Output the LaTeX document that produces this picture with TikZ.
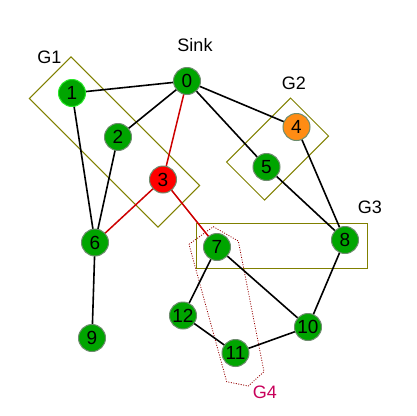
\documentclass[tikz,border=0pt]{standalone}
\usepackage{fontspec}
\setmainfont{Liberation Sans}
\definecolor{ngreen}{RGB}{0,165,0}
\definecolor{nborder}{RGB}{110,140,110}
\definecolor{nlight}{RGB}{40,230,40}
\definecolor{nred}{RGB}{255,0,0}
\definecolor{norange}{RGB}{255,140,20}
\definecolor{ered}{RGB}{205,0,0}
\definecolor{golive}{RGB}{128,128,0}
\definecolor{gdot}{RGB}{150,0,0}
\definecolor{glab}{RGB}{200,0,90}
\pgfdeclarelayer{grouplayer}
\pgfdeclarelayer{edgelayer}
\pgfsetlayers{grouplayer,edgelayer,main}
\tikzset{
  vnode/.style={circle, fill=ngreen, draw=nborder, line width=1pt, minimum size=27pt, inner sep=0pt, font=\fontsize{19}{19}\selectfont},
  edge/.style={line width=1.6pt, black},
  redge/.style={line width=1.5pt, ered},
  grp/.style={line width=1pt, golive},
  grpdot/.style={line width=0.8pt, gdot, dash pattern=on 1pt off 1.5pt},
  lab/.style={inner sep=0pt, font=\fontsize{18}{18}\selectfont}
}
\begin{document}
\begin{tikzpicture}[x=1pt, y=-1pt]
\useasboundingbox (0,0) rectangle (416,416);
% groups
\begin{pgfonlayer}{grouplayer}
\draw[grp] (71.0,56.8) -- (199.7,185.5) -- (158.0,227.2) -- (29.3,98.5) -- cycle;
\draw[grp] (290.6,98.1) -- (328.6,136.1) -- (264.6,200.1) -- (226.6,162.1) -- cycle;
\draw[grp] (196.3,223.3) rectangle (367,268.3);
\draw[grpdot] (189,244.3) -- (213.3,226.7) -- (238.3,241) -- (264,371.7) -- (248.3,386) -- (226.7,381.7) -- cycle;
\end{pgfonlayer}
% labels
\node[lab] (lg1) at (49.5,57) {G1};
\node[lab] (lsink) at (195,45) {Sink};
\node[lab] (lg2) at (294,83) {G2};
\node[lab] (lg3) at (370,207) {G3};
\node[lab, text=glab] (lg4) at (265,392) {G4};
% nodes
\node[vnode] (n0) at (187,81) {0};
\node[vnode, draw=nlight] (n1) at (72,93) {1};
\node[vnode] (n2) at (118,137) {2};
\node[vnode, fill=nred] (n3) at (163,179.5) {3};
\node[vnode, fill=norange] (n4) at (296.5,127) {4};
\node[vnode] (n5) at (266.5,167) {5};
\node[vnode] (n6) at (95,242.5) {6};
\node[vnode] (n7) at (217,247) {7};
\node[vnode] (n8) at (345,240) {8};
\node[vnode] (n9) at (92,338) {9};
\node[vnode] (n10) at (308,327) {10};
\node[vnode] (n11) at (235.5,353) {11};
\node[vnode] (n12) at (183,315.5) {12};
% edges
\begin{pgfonlayer}{edgelayer}
\draw[edge] (n1.center) -- (n0.center);
\draw[edge] (n0.center) -- (n2.center);
\draw[edge] (n0.center) -- (n4.center);
\draw[edge] (n0.center) -- (n5.center);
\draw[edge] (n1.center) -- (n6.center);
\draw[edge] (n2.center) -- (n6.center);
\draw[edge] (n4.center) -- (n8.center);
\draw[edge] (n5.center) -- (n8.center);
\draw[edge] (n8.center) -- (n10.center);
\draw[edge] (n7.center) -- (n10.center);
\draw[edge] (n7.center) -- (n12.center);
\draw[edge] (n12.center) -- (n11.center);
\draw[edge] (n11.center) -- (n10.center);
\draw[edge] (n6.center) -- (n9.center);
\draw[redge] (n0.center) -- (n3.center);
\draw[redge] (n3.center) -- (n6.center);
\draw[redge] (n3.center) -- (n7.center);
\end{pgfonlayer}
\end{tikzpicture}
\end{document}
